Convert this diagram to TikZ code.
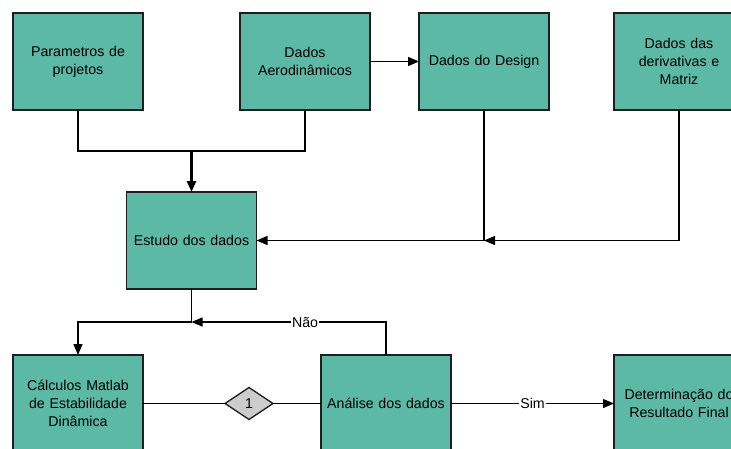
\documentclass[tikz,border=0pt]{standalone}
\usepackage{fontspec}
\setmainfont{Liberation Sans}
\usetikzlibrary{shapes.geometric,arrows.meta}
\definecolor{boxfill}{HTML}{5BB9A6}
\definecolor{boxline}{HTML}{1E1E1E}
\definecolor{dgray}{HTML}{CCCCCC}
\begin{document}
\begin{tikzpicture}[x=1pt,y=-1pt,
  blk/.style={draw=boxline,line width=1.6pt,fill=boxfill,minimum width=130pt,minimum height=97pt,inner sep=0pt,outer sep=0pt,align=center,font=\fontsize{14.2}{18}\selectfont,text width=128pt},
  conn/.style={draw=black,line width=1.3pt},
  arr/.style={conn,-{Triangle[length=11pt,width=9pt]}},
  lbl/.style={fill=white,inner sep=1pt,font=\fontsize{14.2}{16}\selectfont},
  dia/.style={diamond,draw=boxline,line width=1.3pt,fill=dgray,minimum width=48pt,minimum height=32pt,inner sep=0pt,outer sep=0pt,aspect=1.5,font=\fontsize{14.2}{16}\selectfont}]
\useasboundingbox (0,0) rectangle (731,448);
\node[blk] (A) at (78,61.5) {Parametros de\\projetos};
\node[blk] (B) at (305,61.5) {Dados\\Aerodinâmicos};
\node[blk] (C) at (484,61.5) {Dados do Design};
\node[blk] (D) at (679,61.5) {Dados das\\derivativas e\\Matriz};
\node[blk] (E) at (191.5,240.5) {Estudo dos dados};
\node[blk] (F) at (78,403.5) {Cálculos Matlab\\de Estabilidade\\Dinâmica};
\node[dia] (X) at (249,403.5) {1};
\node[blk] (G) at (386,403.5) {Análise dos dados};
\node[blk] (H) at (679,403.5) {Determinação do\\Resultado Final};
\coordinate (j1) at (191.5,151);
\coordinate (j2) at (C.south |- E.east);
\coordinate (j3) at (191.5,322);
% top merge
\draw[conn] (A.south) |- (j1) -| (B.south);
\draw[arr,line width=2.6pt] (j1) -- (E.north);
\draw[arr] (B.east) -- (C.west);
\draw[arr] (C.south) -- (j2) -- (E.east);
\draw[arr] (D.south) |- (j2);
\draw[conn] (E.south) -- (j3);
\draw[arr] (j3) -| (F.north);
\draw[arr] (G.north) |- node[lbl,pos=0.708]{Não} (j3);
\draw[conn] (F.east) -- (X.west);
\draw[conn] (X.east) -- (G.west);
\draw[arr] (G.east) -- node[lbl,pos=0.5]{Sim} (H.west);
\end{tikzpicture}
\end{document}
